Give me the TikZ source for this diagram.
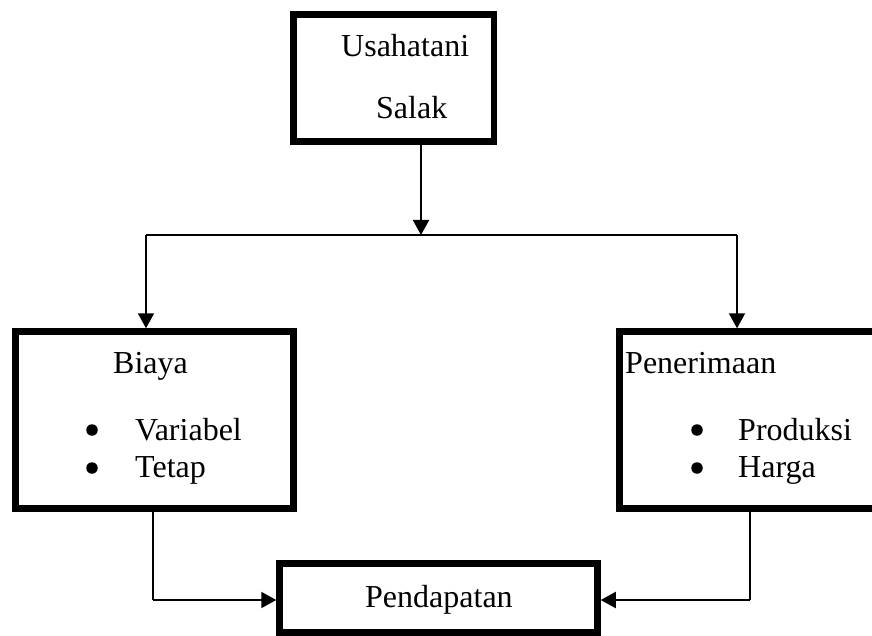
\documentclass[tikz,border=0pt]{standalone}
\usepackage{fontspec}
\setmainfont{Liberation Serif}
\usetikzlibrary{arrows.meta}
\begin{document}
\begin{tikzpicture}[x=1pt,y=-1pt,
  box/.style={draw=black,line width=6.5pt,inner sep=0pt,fill=white},
  txt/.style={anchor=base west,inner sep=0pt,font=\fontsize{32}{38}\selectfont},
  bul/.style={circle,fill=black,inner sep=0pt,minimum size=11.5pt},
  conn/.style={draw=black,line width=2pt},
  arr/.style={conn,-{Triangle[length=15pt,width=16pt]}}]
\useasboundingbox (0,0) rectangle (872,636);
\clip (0,0) rectangle (872,636);
% boxes
\node[box,minimum width=200.5pt,minimum height=127pt] (top) at (393.75,78) {};
\node[box,minimum width=278pt,minimum height=177pt] (biaya) at (154.5,420) {};
\node[box,minimum width=340pt,minimum height=177pt] (pener) at (789.5,420) {};
\node[box,minimum width=318pt,minimum height=69pt] (pend) at (438.5,598) {};
% texts
\node[txt] (t1) at (341,57) {Usahatani};
\node[txt] (t2) at (376,119) {Salak};
\node[txt] (t3) at (113,373) {Biaya};
\node[bul] (b1) at (92,430) {};
\node[txt] (t4) at (135,440) {Variabel};
\node[bul] (b2) at (92,468) {};
\node[txt] (t5) at (135,477) {Tetap};
\node[txt] (t6) at (625,373) {Penerimaan};
\node[bul] (b3) at (697,430) {};
\node[txt] (t7) at (738,440) {Produksi};
\node[bul] (b4) at (697,468) {};
\node[txt] (t8) at (738,477) {Harga};
\node[txt] (t9) at (365,607) {Pendapatan};
% connector coordinates
\coordinate (split) at (421,235);
\coordinate (bl) at (146,235);
\coordinate (br) at (737,235);
\coordinate (lc) at (153,600);
\coordinate (rc) at (750,600);
% connectors
\draw[arr] (top.south -| split) -- (split);
\draw[conn] (bl) -- (br);
\draw[arr] (bl) -- (bl |- biaya.north);
\draw[arr] (br) -- (br |- pener.north);
\draw[conn] (biaya.south -| lc) -- (lc);
\draw[arr] (lc) -- (lc -| pend.west);
\draw[conn] (pener.south -| rc) -- (rc);
\draw[arr] (rc) -- (rc -| pend.east);
\end{tikzpicture}
\end{document}
